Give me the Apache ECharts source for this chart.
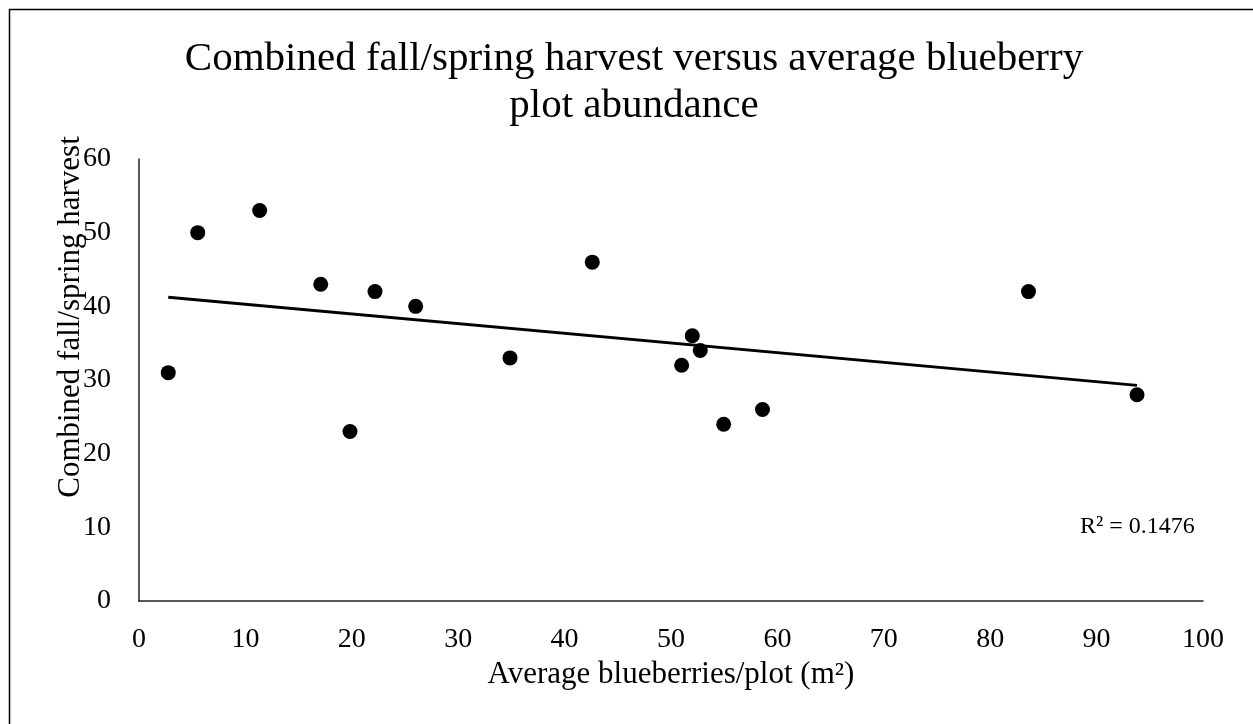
<!DOCTYPE html>
<html>
<head>
<meta charset="utf-8">
<script src="https://cdn.jsdelivr.net/npm/echarts@6/dist/echarts.min.js"></script>
<style>
html,body{margin:0;padding:0;background:#fff;}
#chart{width:1253px;height:724px;}
</style>
</head>
<body>
<div id="chart"></div>
<script>
// Data
const blueberries = [2.75, 5.52, 11.34, 17.08, 19.83, 22.18, 26.0, 34.87, 42.6, 51.0, 52.0, 52.75, 54.95, 58.6, 83.6, 93.8];
const harvest     = [31,   50,   53,    43,    23,    42,    40,   33,    46,   32,   36,   34,    24,    26,   42,   28];
const xTicks = [0,10,20,30,40,50,60,70,80,90,100];
const yTicks = [0,10,20,30,40,50,60];
const titleText = 'Combined fall/spring harvest versus average blueberry\nplot abundance';
const xName = 'Average blueberries/plot (m²)';
const yName = 'Combined fall/spring harvest';
const r2Text = 'R² = 0.1476';

// Linear least-squares trendline derived from the data
const n = blueberries.length;
const mx = blueberries.reduce((a,b)=>a+b,0)/n;
const my = harvest.reduce((a,b)=>a+b,0)/n;
let sxy = 0, sxx = 0;
for (let i=0;i<n;i++){ sxy += (blueberries[i]-mx)*(harvest[i]-my); sxx += (blueberries[i]-mx)**2; }
const slope = sxy/sxx, intercept = my - slope*mx;
const xMin = Math.min(...blueberries), xMax = Math.max(...blueberries);
const trend = [[xMin, intercept+slope*xMin],[xMax, intercept+slope*xMax]];

const font = '"Liberation Serif", "Times New Roman", serif';
const chart = echarts.init(document.getElementById('chart'));
chart.setOption({
  backgroundColor: '#fff',
  animation: false,
  title: {
    text: titleText,
    left: 634, top: 36, padding: 0,
    textAlign: 'center',
    textStyle: { fontFamily: font, fontSize: 41, fontWeight: 'normal', color: '#000', lineHeight: 47 }
  },
  grid: { left: 139, right: 50, top: 159, bottom: 123 },
  xAxis: {
    type: 'value', min: xTicks[0], max: xTicks[xTicks.length-1], interval: 10,
    name: xName, nameLocation: 'middle', nameGap: 52,
    nameTextStyle: { fontFamily: font, fontSize: 31, color: '#000' },
    axisLine: { show: true, lineStyle: { color: '#222', width: 1.5 } },
    axisTick: { show: false },
    splitLine: { show: false },
    axisLabel: { fontFamily: font, fontSize: 28, color: '#000', margin: 25 }
  },
  yAxis: {
    type: 'value', min: yTicks[0], max: yTicks[yTicks.length-1], interval: 10,
    axisLine: { show: true, lineStyle: { color: '#222', width: 1.5 } },
    axisTick: { show: false },
    splitLine: { show: false },
    axisLabel: { fontFamily: font, fontSize: 28, color: '#000', margin: 28 }
  },
  graphic: [
    { type: 'rect', left: 7, top: 7, silent: true,
      shape: { width: 1400, height: 1000 },
      style: { fill: 'none', stroke: '#000', lineWidth: 1.5 } },
    { type: 'text', x: 71, y: 317, rotation: Math.PI/2,
      style: { text: yName, fontFamily: font, fontSize: 31, fill: '#000', align: 'center', verticalAlign: 'middle' } },
    { type: 'text', x: 1080, y: 527,
      style: { text: r2Text, fontFamily: font, fontSize: 24, fill: '#000', align: 'left', verticalAlign: 'middle' } }
  ],
  series: [
    { type: 'scatter', data: blueberries.map((x,i)=>[x, harvest[i]]),
      symbol: 'circle', symbolSize: 15, itemStyle: { color: '#000', opacity: 1 }, z: 3 },
    { type: 'line', data: trend, showSymbol: false, symbol: 'none',
      lineStyle: { color: '#000', width: 3 }, z: 2 }
  ]
});
</script>
</body>
</html>
